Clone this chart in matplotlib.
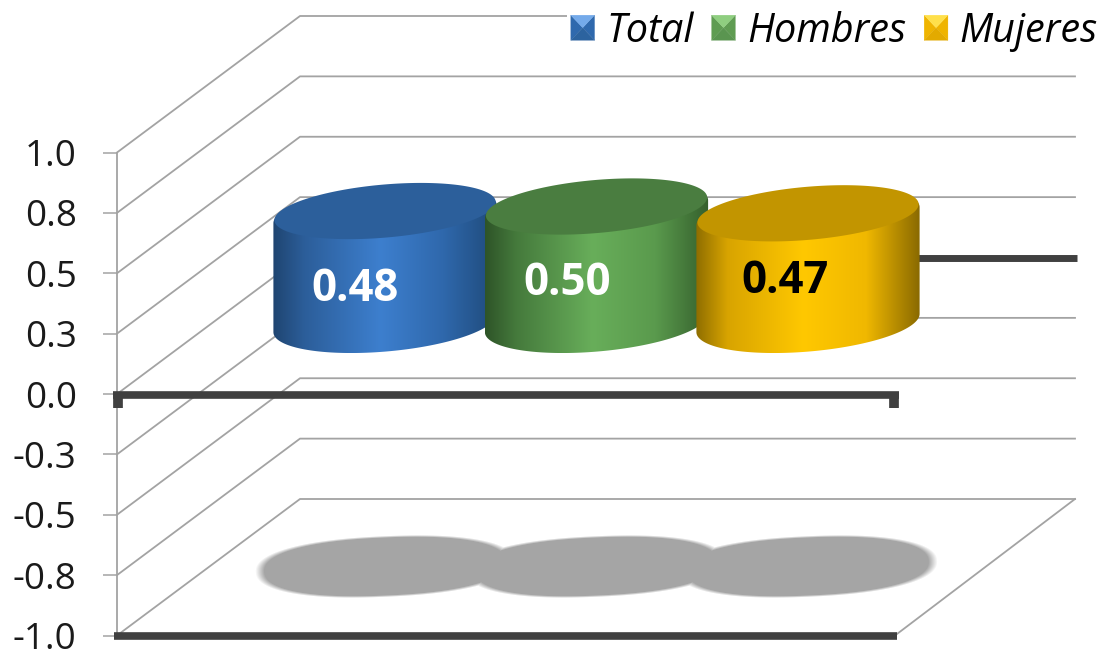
import numpy as np
import matplotlib
matplotlib.use('Agg')
import matplotlib.pyplot as plt
from matplotlib.colors import LinearSegmentedColormap
from matplotlib.legend_handler import HandlerBase
from matplotlib.patches import PathPatch, Polygon, Patch
from matplotlib.path import Path

plt.rcParams['font.family'] = ['Open Sans', 'DejaVu Sans']

# Data
series = ['Total', 'Hombres', 'Mujeres']
values = [0.48, 0.50, 0.47]
value_labels = ['0.48', '0.50', '0.47']
y_ticks = [1.0, 0.75, 0.5, 0.25, 0.0, -0.25, -0.5, -0.75, -1.0]
y_tick_labels = ['1.0', '0.8', '0.5', '0.3', '0.0', '-0.3', '-0.5', '-0.8', '-1.0']

# Styles per series
side_colors = [
    ['#1f4571', '#2c5e9a', '#3d7fce', '#2f68ac', '#1f4a7a'],
    ['#2e5428', '#457a3c', '#68ae5a', '#5a9a4d', '#35602d'],
    ['#8f6e00', '#d8a400', '#ffc800', '#f0b800', '#8a6a00'],
]
top_colors = ['#2c5f9b', '#4a7d40', '#c29500']
text_colors = ['white', 'white', 'black']
bevel_colors = [
    ['#74aaea', '#2f69ad', '#2c639f'],
    ['#8fce80', '#5f9c52', '#5a9550'],
    ['#ffe04a', '#efb400', '#e3aa00'],
]
# offset of the value label from the bar centre, in pixels
label_dx = [-30, -29, -23]
label_dy = [-75, -74, -65]

# Scale: one category = 211.5 px, one y unit = 241.5 px
SX = 211.5
SY = 241.5
X0 = 385
Y0 = 394


def px_x(p):
    return (p - X0) / SX


def px_y(p):
    return (Y0 - p) / SY


fig = plt.figure(figsize=(11.04, 6.56), dpi=100)
ax = fig.add_axes([0, 0, 1, 1])
xlim = (px_x(0), px_x(1104))
ylim = (px_y(656), px_y(0))

# 3D box
x_front = px_x(117)
x_corner = px_x(895)
box_dx = 183 / SX
box_dy = 136.5 / SY
x_right = px_x(1075)
grid_color = '#a3a3a3'
for v in y_ticks:
    ax.plot([x_front, x_front + box_dx, x_right], [v, v + box_dy, v + box_dy],
            color=grid_color, lw=1.3, zorder=1)
ax.plot([x_corner, x_right], [-1, -1 + box_dy], color=grid_color, lw=1.3, zorder=1)

# Thick axis lines
dark = '#404040'
ax.plot([px_x(300), px_x(1077)], [box_dy, box_dy], color=dark, lw=5,
        solid_capstyle='butt', zorder=2)
ax.plot([px_x(113), px_x(899)], [-0.004, -0.004], color=dark, lw=5.5,
        solid_capstyle='butt', zorder=5)
ax.plot([px_x(114), px_x(897)], [-1.004, -1.004], color=dark, lw=5.5,
        solid_capstyle='butt', zorder=5)
for p in [118, 894]:
    ax.plot([px_x(p), px_x(p)], [-0.004, px_y(408)], color=dark, lw=7,
            solid_capstyle='butt', zorder=5)

# Cylinders stand half way into the box
depth_y = 71 / SY
bar_scale = 0.94
half_w = 112
half_h = 28.5
tilt = np.radians(5)
t = np.linspace(0, 2 * np.pi, 361)[:-1]


def ellipse(cx, cy, a=half_w, b=half_h):
    u = a * np.cos(t) * np.cos(tilt) - b * np.sin(t) * np.sin(tilt)
    w = a * np.cos(t) * np.sin(tilt) + b * np.sin(t) * np.cos(tilt)
    return cx + u / SX, cy + w / SY


# Shadow on the floor
gx = np.linspace(xlim[0], xlim[1], 1104)
gy = np.linspace(px_y(620), px_y(510), 110)
mx, my = np.meshgrid(gx, gy)
shadow = np.zeros_like(mx)
shadow_tilt = np.radians(2.5)
for i in range(len(values)):
    ux = (mx - i) * SX
    uy = (my - (-1 + 69 / SY)) * SY
    a = np.abs(ux * np.cos(shadow_tilt) + uy * np.sin(shadow_tilt)) / 130
    b = np.abs(-ux * np.sin(shadow_tilt) + uy * np.cos(shadow_tilt)) / 31
    r = (a ** 2.3 + b ** 2.3) ** (1 / 2.3)
    shadow = np.maximum(shadow, np.clip((1 - r) / 0.07, 0, 1))
shadow_rgba = np.ones(shadow.shape + (4,))
shadow_rgba[..., :3] = 0xa6 / 255
shadow_rgba[..., 3] = shadow
ax.imshow(shadow_rgba, extent=[gx[0], gx[-1], gy[0], gy[-1]], origin='lower',
          aspect='auto', zorder=3)

# Cylinders, back to front from left to right
for i, v in enumerate(values):
    z = 6 + i
    base = depth_y
    top = base + v * bar_scale
    bx, by = ellipse(i, base)
    tx, ty = ellipse(i, top)
    left = np.argmin(bx)
    right = np.argmax(bx)
    # lower arc of the base, from left point to right point
    lower = np.roll(np.arange(360), -left)[:(right - left) % 360 + 1]
    # upper arc of the top, from right point to left point
    upper = np.roll(np.arange(360), -right)[:(left - right) % 360 + 1]
    outline = np.vstack([np.column_stack([bx[lower], by[lower]]),
                         np.column_stack([tx[upper], ty[upper]])])
    clip = PathPatch(Path(np.vstack([outline, outline[:1]]), closed=True),
                     fc='none', lw=0, zorder=z)
    ax.add_patch(clip)
    cmap = LinearSegmentedColormap.from_list(
        'side', list(zip([0, 0.14, 0.48, 0.76, 1], side_colors[i])))
    rgb = cmap(np.linspace(0, 1, 256))[None, :, :3]
    im = ax.imshow(rgb, extent=[bx.min(), bx.max(), by.min(), ty.max()],
                   aspect='auto', origin='lower', zorder=z)
    im.set_clip_path(clip)
    # top face
    ix, iy = ellipse(i, top + 3 / SY, half_w - 1, half_h - 2)
    ax.fill(ix, iy, color=top_colors[i], lw=0, zorder=z + 0.1)
    ax.text(i + label_dx[i] / SX, top + label_dy[i] / SY, value_labels[i],
            color=text_colors[i], fontsize=31.5, fontweight='bold',
            ha='center', va='center', zorder=z + 0.2)

ax.set_xlim(xlim)
ax.set_ylim(ylim)

# Value axis
for name in ['top', 'right', 'bottom']:
    ax.spines[name].set_visible(False)
ax.spines['left'].set_position(('data', x_front))
ax.spines['left'].set_bounds(-1, 1)
ax.spines['left'].set_color(grid_color)
ax.spines['left'].set_linewidth(1.3)
ax.patch.set_visible(False)
ax.set_xticks([])
ax.set_yticks(y_ticks)
ax.set_yticklabels(y_tick_labels, fontsize=26.5, color='#1a1a1a')
ax.tick_params(axis='y', direction='out', length=10, width=1.1, color=grid_color, pad=19)


class BevelHandler(HandlerBase):
    def __init__(self, colors):
        super().__init__()
        self.colors = colors

    def create_artists(self, legend, orig_handle, xdescent, ydescent, width, height,
                       fontsize, trans):
        x0, y0 = -xdescent, -ydescent
        x1, y1 = x0 + width, y0 + height
        xc, yc = (x0 + x1) / 2, (y0 + y1) / 2
        light, mid, low = self.colors
        faces = [([(x0, y0), (x0, y1), (xc, yc)], mid),
                 ([(x1, y0), (x1, y1), (xc, yc)], mid),
                 ([(x0, y0), (x1, y0), (xc, yc)], low),
                 ([(x0, y1), (x1, y1), (xc, yc)], light)]
        return [Polygon(pts, closed=True, fc=c, ec=c, lw=0.2, transform=trans)
                for pts, c in faces]


handles = [Patch(label=s) for s in series]
leg = ax.legend(handles=handles, labels=series, ncol=3, loc='upper right',
                bbox_to_anchor=(1.0, 0.992), frameon=True, fancybox=False,
                facecolor='white', edgecolor='none', framealpha=1,
                prop={'size': 28.5, 'style': 'italic'},
                handlelength=0.6, handleheight=0.6, handletextpad=0.3,
                columnspacing=0.45, borderpad=0.1, borderaxespad=0.05,
                handler_map={h: BevelHandler(c) for h, c in zip(handles, bevel_colors)})
leg.set_zorder(10)

fig.savefig('out.png', dpi=100)
